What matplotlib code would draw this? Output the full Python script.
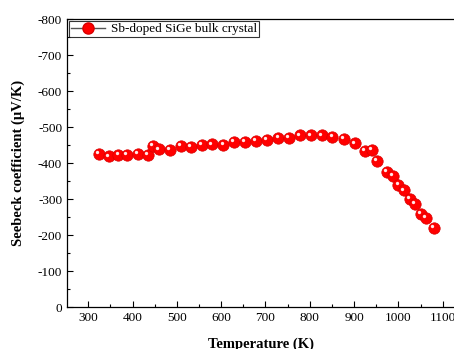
import matplotlib
matplotlib.use("Agg")
import matplotlib.pyplot as plt
from matplotlib.lines import Line2D
from matplotlib.ticker import MultipleLocator
from matplotlib.transforms import offset_copy

plt.rcParams['font.family'] = ['Liberation Serif', 'DejaVu Serif']
plt.rcParams['axes.unicode_minus'] = False

# temperature (K) and Seebeck coefficient (uV/K)
temp = [324, 347, 368, 387, 412, 435, 445, 460, 484, 509, 532, 557, 579,
        605, 629, 654, 679, 704, 729, 753, 777, 802, 828, 851, 877, 901,
        925, 940, 951, 974, 988, 1000, 1012, 1026, 1038, 1051, 1062, 1081]
seebeck = [-425, -419, -422, -423, -425, -424, -448, -438, -436, -447, -445,
           -450, -452, -451, -458, -458, -462, -464, -471, -471, -477, -477,
           -477, -473, -467, -455, -434, -437, -406, -376, -364, -339, -324,
           -300, -286, -260, -247, -220]
series_name = "Sb-doped SiGe bulk crystal"

fig = plt.figure(figsize=(4.54, 3.49), dpi=100)
ax = fig.add_axes([0.1476, 0.1203, 0.8524, 0.8244])

ax.plot(temp, seebeck, 'o', ms=8.2, color='#ff0000', mec='#d80000', mew=0.5)
# little highlight on each ball
hl = offset_copy(ax.transData, fig=fig, x=-1.3, y=1.3, units='points')
ax.plot(temp, seebeck, 'o', ms=2.4, color='#ffe8e8', mew=0, transform=hl)

ax.set_xlim(252, 1125.5)
ax.set_ylim(0, -800)
ax.xaxis.set_major_locator(MultipleLocator(100))
ax.xaxis.set_minor_locator(MultipleLocator(50))
ax.yaxis.set_major_locator(MultipleLocator(100))
ax.yaxis.set_minor_locator(MultipleLocator(50))
ax.tick_params(which='both', direction='in', labelsize=9.5, width=0.8)
ax.tick_params(which='major', length=4)
ax.tick_params(which='minor', length=2)
ax.spines['right'].set_visible(False)
for s in ('left', 'bottom', 'top'):
    ax.spines[s].set_linewidth(0.9)

ax.set_xlabel("Temperature (K)", fontsize=10.5, fontweight='bold', labelpad=10)
ax.set_ylabel("Seebeck coefficient (\u03bcV/K)", fontsize=10.5,
              fontweight='bold', labelpad=9)

handle = Line2D([], [], color='#555555', lw=1, marker='o', ms=8,
                mfc='#ff0000', mec='#d80000')
leg = ax.legend([handle], [series_name], loc='upper left', fontsize=9.5,
                frameon=True, fancybox=False, borderpad=0.15,
                borderaxespad=0.15, handlelength=2.6, handletextpad=0.4)
leg.get_frame().set_edgecolor('black')
leg.get_frame().set_linewidth(0.8)

fig.savefig("out.png", dpi=100)
